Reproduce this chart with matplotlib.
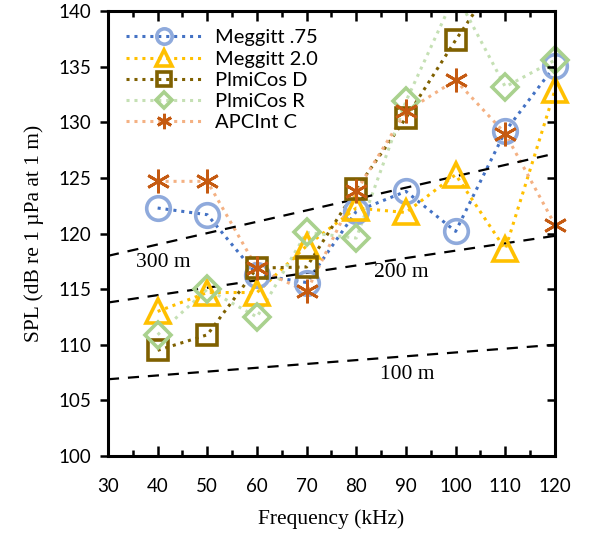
import matplotlib.pyplot as plt
import numpy as np

# data
freq = [40, 50, 60, 70, 80, 90, 100, 110, 120]
meggitt_075 = [122.3, 121.7, 116.3, 115.6, 122.0, 123.8, 120.2, 129.2, 135.1]
meggitt_20 = [113.0, 114.7, 114.7, 118.9, 122.3, 121.9, 125.3, 118.6, 132.9]
plmicos_d = [109.5, 110.9, 116.9, 117.0, 124.0, 130.4, 137.4, 144.0, np.nan]
plmicos_r = [110.9, 115.0, 112.5, 120.1, 119.6, 131.9, 141.6, 133.2, 135.6]
apcint_c = [124.7, 124.7, 116.9, 114.8, 123.8, 131.0, 133.8, 129.0, 120.8]

# range curves (end points)
range_x = [30, 120]
range_300 = [118.0, 127.2]
range_200 = [113.8, 119.8]
range_100 = [106.9, 110.0]

series = [
    ("Meggitt .75", meggitt_075, "o", "#4472C4", "#8FAADC", 17, 2.6),
    ("Meggitt 2.0", meggitt_20, "^", "#FFC000", "#FFC000", 17, 2.6),
    ("PlmiCos D", plmicos_d, "s", "#7F6000", "#7F6000", 15, 2.6),
    ("PlmiCos R", plmicos_r, "D", "#C5E0B4", "#A9D18E", 13, 2.6),
    ("APCInt C", apcint_c, (6, 2, 0), "#F4B183", "#C55A11", 17, 2.0),
]

fig = plt.figure(figsize=(5.91, 5.35), dpi=100)
ax = fig.add_axes([0.1827, 0.1477, 0.7563, 0.8313])

for name, vals, mk, lc, mc, ms, mew in series:
    ax.plot(freq, vals, linestyle=(0, (1, 1.6)), linewidth=2.2, color=lc, label=name,
            marker=mk, markersize=ms, markerfacecolor="none",
            markeredgecolor=mc, markeredgewidth=mew, markevery=[])
    # markers inside the range, not clipped at the frame
    v = np.array(vals, dtype=float)
    v[v > 140] = np.nan
    ax.plot(freq, v, linestyle="none", marker=mk, markersize=ms,
            markerfacecolor="none", markeredgecolor=mc, markeredgewidth=mew,
            clip_on=False, zorder=2.4)

for yy in (range_300, range_200, range_100):
    ax.plot(range_x, yy, color="black", linestyle=(0, (5, 4)), linewidth=1.6)

serif = "Liberation Serif"
ax.text(41.2, 117.4, "300 m", family=serif, fontsize=15.5, ha="center", va="center")
ax.text(89.0, 116.5, "200 m", family=serif, fontsize=15.5, ha="center", va="center")
ax.text(90.2, 107.3, "100 m", family=serif, fontsize=15.5, ha="center", va="center")

ax.set_xlim(30, 120)
ax.set_ylim(100, 140)
ax.set_xticks(range(30, 121, 10))
ax.set_xticks(range(35, 120, 10), minor=True)
ax.set_yticks(range(100, 141, 5))

for lab in ax.get_xticklabels() + ax.get_yticklabels():
    lab.set_family("Lato")
    lab.set_fontsize(13.5)

ax.tick_params(axis="x", which="both", direction="in", top=True, width=1.8, pad=16)
ax.tick_params(axis="x", which="major", length=7)
ax.tick_params(axis="x", which="minor", length=4)
ax.tick_params(axis="y", which="major", direction="out", length=6, width=1.8, pad=6)
for sp in ax.spines.values():
    sp.set_linewidth(2.2)

# right axis ticks point inward
ax2 = ax.twinx()
ax2.set_ylim(100, 140)
ax2.set_yticks(range(100, 141, 5))
ax2.tick_params(axis="y", direction="in", length=6, width=1.8, labelright=False)

ax.set_xlabel("Frequency (kHz)", family=serif, fontsize=15.5, labelpad=10)
ax.set_ylabel("SPL (dB re 1 µPa at 1 m)", family=serif, fontsize=15.5, labelpad=10)

# legend handles: line with one marker in the middle
handles, labels = ax.get_legend_handles_labels()
for h in handles:
    h.set_markevery([1])
leg = ax.legend(handles, labels, loc="upper left", bbox_to_anchor=(0.0, 1.0),
                frameon=False, prop={"family": "Lato", "size": 14.5},
                markerscale=0.65, handlelength=3.8, labelspacing=0.2,
                handletextpad=0.6)
for h in handles:
    h.set_markevery([])

plt.savefig("out.png", dpi=100)
